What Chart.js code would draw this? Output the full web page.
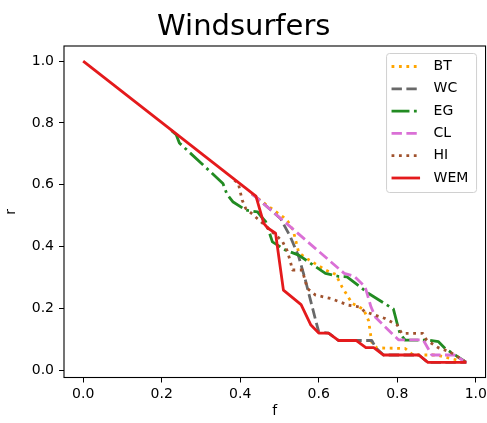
<!DOCTYPE html>
<html><head><meta charset="utf-8">
<script src="https://cdn.jsdelivr.net/npm/chart.js@4.4.1/dist/chart.umd.min.js"></script>
<style>
html,body{margin:0;padding:0;overflow:hidden;background:#fff;width:487px;height:423px}
#wrap{width:490px;height:423px;position:relative}
</style>
</head><body><div id="wrap"><canvas id="c" width="490" height="423"></canvas></div>
<script>
const chartTitle = 'Windsurfers';
const xTitle = 'f';
const yTitle = 'r';
const xTicks = [0, 0.2, 0.4, 0.6, 0.8, 1.0];
const yTicks = [0, 0.2, 0.4, 0.6, 0.8, 1.0];
const seriesNames = ['BT', 'WC', 'EG', 'CL', 'HI', 'WEM'];

const f_BT = [0.43, 0.44, 0.51, 0.522, 0.535, 0.549, 0.571, 0.617, 0.643, 0.659, 0.685, 0.714, 0.727, 0.731, 0.735, 0.748, 0.82, 0.84, 0.9, 0.976];
const r_BT = [0.57, 0.56, 0.495, 0.48, 0.452, 0.38, 0.36, 0.324, 0.31, 0.27, 0.216, 0.197, 0.16, 0.124, 0.09, 0.072, 0.07, 0.049, 0.049, 0.025];

const f_WC = [0.43, 0.44, 0.478, 0.503, 0.528, 0.549, 0.566, 0.592, 0.6, 0.625, 0.65, 0.735, 0.745, 0.765, 0.855, 0.878, 0.976];
const r_WC = [0.57, 0.56, 0.518, 0.49, 0.431, 0.367, 0.291, 0.162, 0.124, 0.12, 0.096, 0.096, 0.073, 0.049, 0.049, 0.025, 0.025];

const f_EG = [0.225, 0.237, 0.245, 0.356, 0.366, 0.381, 0.414, 0.444, 0.456, 0.465, 0.482, 0.516, 0.549, 0.617, 0.651, 0.672, 0.727, 0.79, 0.803, 0.807, 0.82, 0.88, 0.905, 0.922, 0.976];
const r_EG = [0.775, 0.762, 0.735, 0.604, 0.57, 0.545, 0.518, 0.512, 0.493, 0.48, 0.415, 0.388, 0.372, 0.313, 0.303, 0.302, 0.248, 0.198, 0.135, 0.119, 0.097, 0.097, 0.092, 0.07, 0.025];

const f_CL = [0.43, 0.44, 0.665, 0.69, 0.718, 0.733, 0.745, 0.803, 0.866, 0.888, 0.945, 0.976];
const r_CL = [0.57, 0.56, 0.313, 0.304, 0.27, 0.205, 0.17, 0.098, 0.098, 0.049, 0.049, 0.025];

const f_HI = [0.385, 0.395, 0.405, 0.414, 0.431, 0.444, 0.507, 0.52, 0.528, 0.533, 0.558, 0.571, 0.592, 0.63, 0.676, 0.702, 0.718, 0.769, 0.8, 0.811, 0.865, 0.875, 0.904, 0.934, 0.976];
const r_HI = [0.615, 0.605, 0.55, 0.523, 0.505, 0.49, 0.418, 0.385, 0.35, 0.324, 0.324, 0.264, 0.243, 0.232, 0.21, 0.205, 0.189, 0.167, 0.146, 0.119, 0.119, 0.097, 0.073, 0.059, 0.025];

const f_WEM = [0, 0.44, 0.46, 0.47, 0.49, 0.51, 0.555, 0.58, 0.60, 0.625, 0.65, 0.695, 0.72, 0.74, 0.765, 0.855, 0.878, 0.976];
const r_WEM = [1.0, 0.563, 0.475, 0.46, 0.443, 0.259, 0.212, 0.146, 0.12, 0.12, 0.096, 0.096, 0.073, 0.073, 0.049, 0.049, 0.025, 0.025];

const LW = 2.8;
const styles = {
  BT:  {color: '#FFA500', dash: [1 * LW, 1.65 * LW]},
  WC:  {color: '#696969', dash: [3.7 * LW, 1.6 * LW]},
  EG:  {color: '#228B22', dash: [6.4 * LW, 1.6 * LW, 1 * LW, 1.6 * LW]},
  CL:  {color: '#DA70D6', dash: [3.7 * LW, 1.6 * LW]},
  HI:  {color: '#A0522D', dash: [1 * LW, 1.65 * LW]},
  WEM: {color: '#E41A1C', dash: []}
};
const seriesData = {BT: [f_BT, r_BT], WC: [f_WC, r_WC], EG: [f_EG, r_EG], CL: [f_CL, r_CL], HI: [f_HI, r_HI], WEM: [f_WEM, r_WEM]};

const datasets = seriesNames.map((name, i) => {
  const [fx, ry] = seriesData[name];
  return {
    label: name,
    data: fx.map((v, k) => ({x: v, y: ry[k]})),
    borderColor: styles[name].color,
    backgroundColor: styles[name].color,
    borderDash: styles[name].dash,
    borderWidth: LW,
    borderCapStyle: 'butt',
    borderJoinStyle: 'round',
    pointRadius: 0,
    pointHoverRadius: 0,
    tension: 0,
    fill: false,
    order: seriesNames.length - 1 - i
  };
});

const frame = {
  id: 'frame',
  afterDatasetsDraw(chart) {
    const {ctx, chartArea: a} = chart;
    ctx.save();
    ctx.strokeStyle = '#000';
    ctx.lineWidth = 1.1;
    ctx.strokeRect(a.left, a.top, a.right - a.left, a.bottom - a.top);
    ctx.restore();
  }
};

const mplLegend = {
  id: 'mplLegend',
  afterDraw(chart) {
    const {ctx, chartArea: a} = chart;
    const w = 90, h = 139;
    const x0 = a.right - 9 - w, y0 = a.top + 7.5;
    ctx.save();
    ctx.beginPath();
    const r = 3;
    ctx.moveTo(x0 + r, y0);
    ctx.arcTo(x0 + w, y0, x0 + w, y0 + h, r);
    ctx.arcTo(x0 + w, y0 + h, x0, y0 + h, r);
    ctx.arcTo(x0, y0 + h, x0, y0, r);
    ctx.arcTo(x0, y0, x0 + w, y0, r);
    ctx.closePath();
    ctx.fillStyle = 'rgba(255,255,255,0.8)';
    ctx.fill();
    ctx.strokeStyle = '#d0d0d0';
    ctx.lineWidth = 1;
    ctx.stroke();
    chart.data.datasets.forEach((ds, i) => {
      const yy = y0 + 13 + i * 22.3;
      ctx.beginPath();
      ctx.setLineDash(ds.borderDash || []);
      ctx.lineWidth = ds.borderWidth;
      ctx.strokeStyle = ds.borderColor;
      ctx.lineCap = 'butt';
      ctx.moveTo(x0 + 5, yy);
      ctx.lineTo(x0 + 33.5, yy);
      ctx.stroke();
      ctx.setLineDash([]);
      ctx.fillStyle = '#000';
      ctx.font = '14px "DejaVu Sans"';
      ctx.textAlign = 'left';
      ctx.textBaseline = 'middle';
      ctx.fillText(ds.label, x0 + 47, yy);
    });
    ctx.restore();
  }
};

Chart.defaults.font.family = '"DejaVu Sans", sans-serif';
Chart.defaults.color = '#000';

new Chart(document.getElementById('c'), {
  type: 'line',
  data: {datasets},
  options: {
    responsive: false,
    animation: false,
    devicePixelRatio: 1,
    layout: {padding: {left: 0, right: 2.5, top: 0, bottom: 0}},
    plugins: {
      legend: {display: false},
      tooltip: {enabled: false},
      title: {
        display: true,
        text: chartTitle,
        color: '#000',
        font: {size: 29, weight: 'normal', lineHeight: 1.2},
        padding: {top: 9.6, bottom: 1.6}
      }
    },
    scales: {
      x: {
        type: 'linear',
        min: -0.0488,
        max: 1.0248,
        afterBuildTicks: s => { s.ticks = xTicks.map(v => ({value: v})); },
        afterFit: s => { s.height = 45.5; },
        ticks: {font: {size: 14}, padding: 3, maxRotation: 0, color: '#000', callback: v => Number(v).toFixed(1)},
        grid: {drawOnChartArea: false, drawTicks: true, tickLength: 5, color: '#000', tickWidth: 1},
        border: {display: false},
        title: {display: true, text: xTitle, font: {size: 14}, color: '#000', padding: {top: 0, bottom: 3.4}}
      },
      y: {
        type: 'linear',
        min: -0.02375,
        max: 1.04875,
        afterBuildTicks: s => { s.ticks = yTicks.map(v => ({value: v})); },
        afterFit: s => { s.width = 64; },
        ticks: {font: {size: 14}, padding: 5, color: '#000', callback: v => Number(v).toFixed(1)},
        grid: {drawOnChartArea: false, drawTicks: true, tickLength: 5, color: '#000', tickWidth: 1},
        border: {display: false},
        title: {display: true, text: yTitle, font: {size: 14}, color: '#000', padding: {top: 3.3, bottom: 0}}
      }
    }
  },
  plugins: [frame, mplLegend]
});
</script>
</body></html>
